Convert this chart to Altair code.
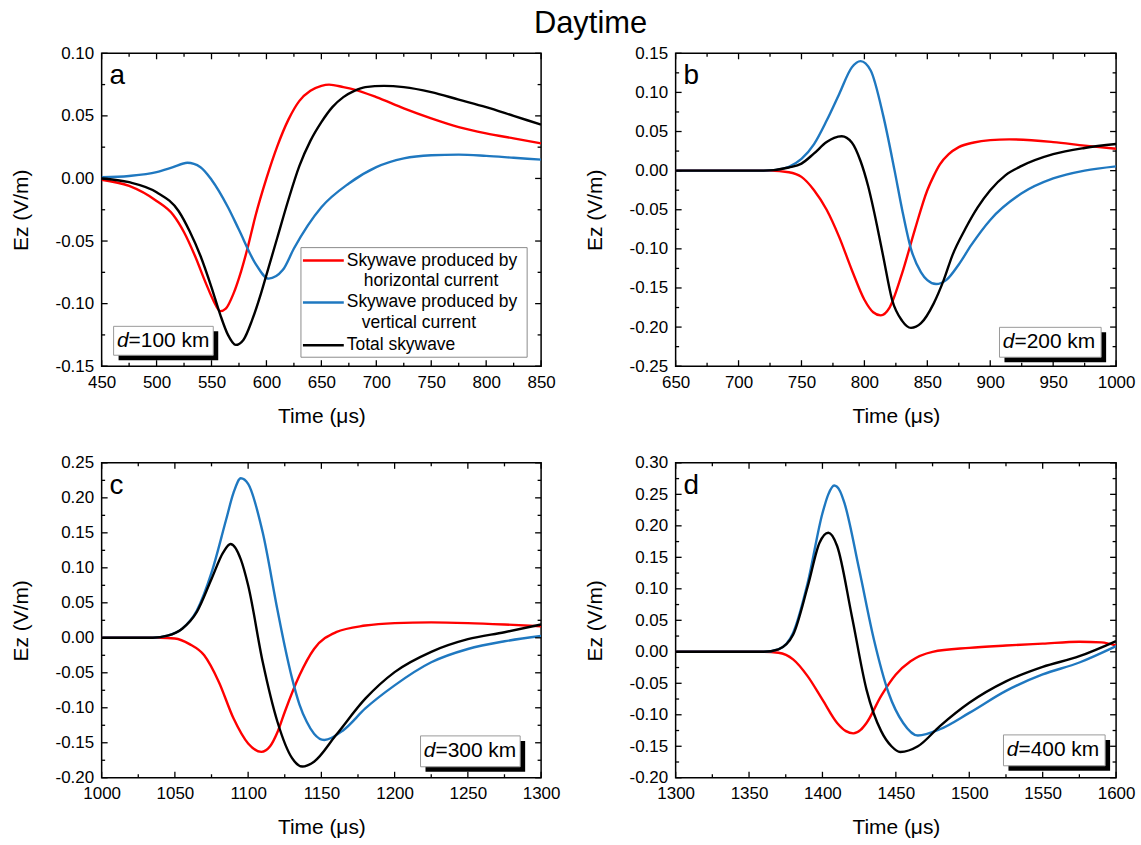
import altair as alt
import pandas as pd

SERIES = ["horizontal", "vertical", "total"]
COLORS = ["#FF0000", "#1F78C0", "#000000"]
FONT = "Liberation Sans"

# ---------------- Panel a (d = 100 km) ----------------
a_t_h = [450, 475, 500, 515, 525, 535, 545, 552, 558, 563, 570, 577, 583, 590, 600, 610, 620, 630, 640, 650, 657, 670, 680, 700, 725, 750, 775, 800, 825, 850]
a_h = [-0.001, -0.006, -0.018, -0.029, -0.043, -0.062, -0.084, -0.098, -0.106, -0.104, -0.092, -0.074, -0.055, -0.030, 0.000, 0.026, 0.047, 0.062, 0.070, 0.074, 0.075, 0.073, 0.071, 0.065, 0.056, 0.048, 0.041, 0.036, 0.032, 0.028]
a_t_v = [450, 475, 500, 515, 528, 540, 550, 565, 575, 590, 602, 615, 625, 650, 675, 700, 725, 750, 775, 800, 825, 850]
a_v = [0.001, 0.002, 0.005, 0.009, 0.0125, 0.009, -0.001, -0.023, -0.041, -0.068, -0.080, -0.073, -0.056, -0.023, -0.004, 0.009, 0.016, 0.0185, 0.019, 0.018, 0.0165, 0.015]
a_t_t = [450, 475, 500, 520, 530, 540, 550, 558, 565, 572, 579, 587, 595, 600, 610, 620, 630, 640, 650, 660, 670, 680, 690, 707, 725, 750, 775, 800, 825, 850]
a_t = [0.0, -0.003, -0.011, -0.026, -0.042, -0.062, -0.087, -0.109, -0.125, -0.133, -0.129, -0.113, -0.092, -0.077, -0.047, -0.017, 0.010, 0.030, 0.045, 0.057, 0.065, 0.070, 0.073, 0.074, 0.073, 0.069, 0.063, 0.057, 0.050, 0.043]

# ---------------- Panel b (d = 200 km) ----------------
b_t_h = [650, 725, 740, 750, 760, 770, 780, 790, 800, 807, 813, 820, 830, 840, 850, 855, 860, 867, 875, 887, 900, 915, 950, 975, 1000]
b_h = [0, 0, -0.002, -0.008, -0.025, -0.050, -0.085, -0.127, -0.165, -0.181, -0.185, -0.175, -0.131, -0.076, -0.025, -0.007, 0.008, 0.021, 0.030, 0.036, 0.039, 0.040, 0.0365, 0.032, 0.028]
b_t_v = [650, 720, 730, 740, 750, 760, 770, 780, 790, 797, 805, 815, 824, 830, 837, 845, 850, 857, 865, 875, 885, 900, 925, 950, 975, 1000]
b_v = [0, 0, 0.001, 0.005, 0.015, 0.034, 0.064, 0.098, 0.132, 0.140, 0.128, 0.070, 0.0, -0.050, -0.100, -0.130, -0.140, -0.145, -0.140, -0.120, -0.095, -0.063, -0.029, -0.010, 0.0, 0.0055]
b_t_t = [650, 720, 740, 750, 760, 770, 776, 782, 790, 797, 803, 810, 815, 822, 830, 837, 845, 855, 863, 870, 880, 890, 900, 912, 925, 950, 975, 1000]
b_t = [0, 0, 0.004, 0.009, 0.022, 0.0365, 0.042, 0.044, 0.036, 0.012, -0.02, -0.07, -0.11, -0.165, -0.192, -0.201, -0.195, -0.170, -0.140, -0.108, -0.075, -0.047, -0.025, -0.006, 0.006, 0.021, 0.029, 0.034]

# ---------------- Panel c (d = 300 km) ----------------
c_t_h = [1000, 1040, 1050, 1060, 1070, 1080, 1090, 1100, 1109, 1115, 1120, 1125, 1135, 1145, 1160, 1180, 1200, 1225, 1250, 1275, 1300]
c_h = [0, 0, -0.001, -0.009, -0.025, -0.063, -0.115, -0.151, -0.163, -0.155, -0.135, -0.106, -0.054, -0.016, 0.008, 0.0175, 0.021, 0.022, 0.021, 0.019, 0.0165]
c_t_v = [1000, 1035, 1045, 1055, 1065, 1075, 1085, 1090, 1095, 1100, 1110, 1120, 1125, 1130, 1135, 1140, 1145, 1152, 1165, 1180, 1200, 1225, 1250, 1275, 1300]
c_v = [0, 0, 0.003, 0.013, 0.039, 0.093, 0.169, 0.207, 0.228, 0.220, 0.150, 0.040, -0.012, -0.058, -0.095, -0.120, -0.137, -0.146, -0.132, -0.101, -0.068, -0.035, -0.016, -0.005, 0.0025]
c_t_t = [1000, 1035, 1045, 1055, 1065, 1075, 1083, 1088, 1095, 1100, 1110, 1120, 1130, 1137, 1145, 1160, 1180, 1200, 1225, 1250, 1275, 1300]
c_t = [0, 0, 0.003, 0.013, 0.037, 0.084, 0.122, 0.134, 0.112, 0.075, -0.035, -0.12, -0.172, -0.184, -0.177, -0.139, -0.087, -0.049, -0.020, -0.002, 0.008, 0.019]

# ---------------- Panel d (d = 400 km) ----------------
d_t_h = [1300, 1360, 1370, 1380, 1390, 1400, 1410, 1416, 1421, 1426, 1430, 1440, 1450, 1460, 1475, 1500, 1525, 1550, 1575, 1590, 1600]
d_h = [0, 0, -0.0016, -0.012, -0.039, -0.076, -0.113, -0.126, -0.1296, -0.124, -0.113, -0.070, -0.036, -0.015, 0.0, 0.0063, 0.010, 0.013, 0.016, 0.015, 0.010]
d_t_v = [1300, 1360, 1370, 1380, 1390, 1400, 1404, 1408, 1412, 1415, 1425, 1435, 1445, 1455, 1465, 1480, 1500, 1525, 1550, 1575, 1600]
d_v = [0, 0, 0.004, 0.030, 0.110, 0.220, 0.250, 0.264, 0.255, 0.236, 0.131, 0.020, -0.065, -0.113, -0.133, -0.123, -0.097, -0.062, -0.036, -0.017, 0.009]
d_t_t = [1300, 1360, 1370, 1380, 1390, 1398, 1404, 1410, 1420, 1430, 1440, 1447, 1453, 1465, 1480, 1500, 1525, 1550, 1575, 1600]
d_t = [0, 0, 0.004, 0.027, 0.104, 0.173, 0.189, 0.168, 0.057, -0.060, -0.126, -0.150, -0.159, -0.150, -0.118, -0.081, -0.047, -0.024, -0.007, 0.017]

# ---------------- Axis ticks ----------------
a_xticks = [450, 500, 550, 600, 650, 700, 750, 800, 850]
a_yticks = [-0.15, -0.10, -0.05, 0.00, 0.05, 0.10]
b_xticks = [650, 700, 750, 800, 850, 900, 950, 1000]
b_yticks = [-0.25, -0.20, -0.15, -0.10, -0.05, 0.00, 0.05, 0.10, 0.15]
c_xticks = [1000, 1050, 1100, 1150, 1200, 1250, 1300]
c_yticks = [-0.20, -0.15, -0.10, -0.05, 0.00, 0.05, 0.10, 0.15, 0.20, 0.25]
d_xticks = [1300, 1350, 1400, 1450, 1500, 1550, 1600]
d_yticks = [-0.20, -0.15, -0.10, -0.05, 0.00, 0.05, 0.10, 0.15, 0.20, 0.25, 0.30]

LEGEND_LINES = ["Skywave produced by", "horizontal current", "Skywave produced by", "vertical current", "Total skywave"]

ONE = pd.DataFrame({"k": [0]})


def mids(vals):
    return [(vals[i] + vals[i + 1]) / 2 for i in range(len(vals) - 1)]


def panel(letter, dist, curves, xticks, yticks, W, H, box, legend=False):
    rows = []
    for s, (ts, vs) in zip(SERIES, curves):
        rows += [{"t": t, "v": v, "s": s} for t, v in zip(ts, vs)]
    df = pd.DataFrame(rows)
    xs = alt.Scale(domain=[xticks[0], xticks[-1]], nice=False, zero=False)
    ys = alt.Scale(domain=[yticks[0], yticks[-1]], nice=False, zero=False)
    xaxis = alt.Axis(title="Time (μs)", values=xticks, format="d", titlePadding=15)
    yaxis = alt.Axis(title="Ez (V/m)", values=yticks, titlePadding=24,
                     labelExpr="replace(format(datum.value, '.2f'), '\u2212', '-')")

    lines = alt.Chart(df).mark_line(strokeWidth=2.4, interpolate="monotone", clip=True).encode(
        x=alt.X("t:Q", scale=xs, axis=xaxis),
        y=alt.Y("v:Q", scale=ys, axis=yaxis),
        color=alt.Color("s:N", scale=alt.Scale(domain=SERIES, range=COLORS), legend=None),
    )

    layers = []
    # inward ticks on all four sides
    for vals, ln in ((xticks, 6), (mids(xticks), 3.5)):
        tdf = pd.DataFrame({"t": vals})
        base = alt.Chart(tdf).mark_rule(color="black", strokeWidth=1.3)
        layers.append(base.encode(x=alt.X("t:Q", scale=xs, axis=xaxis), y=alt.value(H), y2=alt.value(H - ln)))
        layers.append(base.encode(x=alt.X("t:Q", scale=xs, axis=xaxis), y=alt.value(0), y2=alt.value(ln)))
    for vals, ln in ((yticks, 6), (mids(yticks), 3.5)):
        tdf = pd.DataFrame({"v": vals})
        base = alt.Chart(tdf).mark_rule(color="black", strokeWidth=1.3)
        layers.append(base.encode(y=alt.Y("v:Q", scale=ys, axis=yaxis), x=alt.value(0), x2=alt.value(ln)))
        layers.append(base.encode(y=alt.Y("v:Q", scale=ys, axis=yaxis), x=alt.value(W), x2=alt.value(W - ln)))

    # panel letter
    layers.append(alt.Chart(ONE).mark_text(text=letter, font=FONT, fontSize=28, align="left",
                                           baseline="alphabetic", color="black").encode(
        x=alt.value(8), y=alt.value(31)))

    # distance box with shadow
    bx0, by0, bx1, by1 = box
    layers.append(alt.Chart(ONE).mark_rect(color="black").encode(
        x=alt.value(bx0 + 5), x2=alt.value(bx1 + 5), y=alt.value(by0 + 5), y2=alt.value(by1 + 5)))
    layers.append(alt.Chart(ONE).mark_rect(fill="white", stroke="#9a9a9a", strokeWidth=1).encode(
        x=alt.value(bx0), x2=alt.value(bx1), y=alt.value(by0), y2=alt.value(by1)))
    cy = (by0 + by1) / 2
    layers.append(alt.Chart(ONE).mark_text(text="d", font=FONT, fontSize=21, fontStyle="italic",
                                           align="right", baseline="middle", color="black").encode(
        x=alt.value(bx0 + 15), y=alt.value(cy)))
    layers.append(alt.Chart(ONE).mark_text(text="=" + dist + " km", font=FONT, fontSize=21,
                                           align="left", baseline="middle", color="black").encode(
        x=alt.value(bx0 + 15), y=alt.value(cy)))

    if legend:
        lx0, ly0, lx1, ly1 = 200, 195, 427, 305
        layers.append(alt.Chart(ONE).mark_rect(fill="white", stroke="#8c8c8c", strokeWidth=1).encode(
            x=alt.value(lx0), x2=alt.value(lx1), y=alt.value(ly0), y2=alt.value(ly1)))
        for col, yy in zip(COLORS, (208, 250, 293)):
            layers.append(alt.Chart(ONE).mark_rule(color=col, strokeWidth=2.6).encode(
                x=alt.value(202), x2=alt.value(243), y=alt.value(yy)))
        for txt, xx, yy in zip(LEGEND_LINES, (246, 263, 246, 261, 246), (208, 229, 250, 271, 293)):
            layers.append(alt.Chart(ONE).mark_text(text=txt, font=FONT, fontSize=17.5, align="left",
                                                   baseline="middle", color="black").encode(
                x=alt.value(xx), y=alt.value(yy)))

    return alt.layer(lines, *layers).properties(width=W, height=H)


pa = panel("a", "100", [(a_t_h, a_h), (a_t_v, a_v), (a_t_t, a_t)], a_xticks, a_yticks, 441, 314,
           (12, 274, 112, 303), legend=True)
pb = panel("b", "200", [(b_t_h, b_h), (b_t_v, b_v), (b_t_t, b_t)], b_xticks, b_yticks, 442, 314,
           (325, 275, 427, 305))
pc = panel("c", "300", [(c_t_h, c_h), (c_t_v, c_v), (c_t_t, c_t)], c_xticks, c_yticks, 441, 316,
           (320, 274, 420, 305))
pd_ = panel("d", "400", [(d_t_h, d_h), (d_t_v, d_v), (d_t_t, d_t)], d_xticks, d_yticks, 442, 316,
            (329, 273, 431, 304))

chart = alt.concat(pa, pb, pc, pd_, columns=2, spacing={"row": 97, "column": 135}, bounds="flush").properties(
    title=alt.TitleParams("Daytime", font=FONT, fontSize=31, fontWeight="normal", color="black",
                          anchor="middle", offset=4, dx=18),
    padding={"left": 9, "top": 6, "right": 5, "bottom": 5},
    background="white",
).configure_view(stroke="black", strokeWidth=1.5).configure_axis(
    labelFont=FONT, titleFont=FONT, labelFontSize=17, titleFontSize=21, titleFontWeight="normal",
    labelColor="black", titleColor="black", grid=False, ticks=False, domain=False,
    labelPadding=8, labelFlush=False,
)

chart.save("out.html", embed_options={"renderer": "svg", "actions": False})
